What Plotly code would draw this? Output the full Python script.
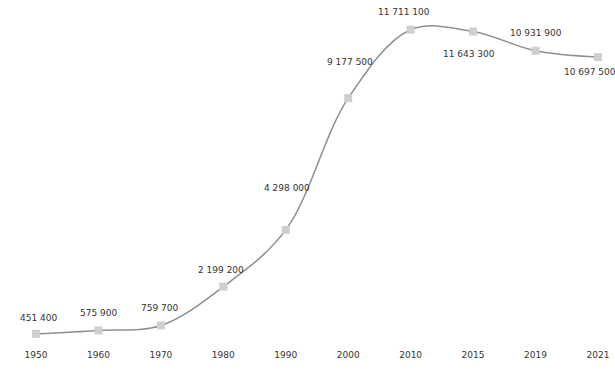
import plotly.graph_objects as go

years = ["1950", "1960", "1970", "1980", "1990", "2000", "2010", "2015", "2019", "2021"]
population = [451400, 575900, 759700, 2199200, 4298000, 9177500, 11711100, 11643300, 10931900, 10697500]
labels = ["451 400", "575 900", "759 700", "2 199 200", "4 298 000", "9 177 500",
          "11 711 100", "11 643 300", "10 931 900", "10 697 500"]

# label offsets in pixels (style)
label_dx = [2, 0, -1, -2, 1, 2, -7, -4, 0, -8]
label_dy = [16, 17, 17, 17, 42, 36, 18, -22, 18, -15]

fig = go.Figure()
fig.add_trace(go.Scatter(
    x=years, y=population, mode="lines+markers",
    line=dict(color="#8f8f8f", width=1.5, shape="spline", smoothing=1.0),
    marker=dict(symbol="square", size=8, color="#cfcfcf"),
    hoverinfo="skip", cliponaxis=False,
))

for i, (y, t, dx, dy) in enumerate(zip(population, labels, label_dx, label_dy)):
    fig.add_annotation(x=i, y=y, xref="x", yref="y", text=t, showarrow=False,
                       xshift=dx, yshift=dy,
                       font=dict(family="DejaVu Sans", size=9, color="#333333"))

fig.update_layout(
    width=615, height=373,
    margin=dict(l=0, r=0, t=10, b=30),
    paper_bgcolor="white", plot_bgcolor="white",
    showlegend=False,
    xaxis=dict(type="category", range=[-0.5765, 9.273], showgrid=False, zeroline=False,
               showline=False, ticks="outside", ticklen=3, tickcolor="rgba(0,0,0,0)",
               tickfont=dict(family="DejaVu Sans", size=9, color="#333333")),
    yaxis=dict(range=[111000, 12440000], visible=False, showgrid=False, zeroline=False),
)

fig.write_html("out.html")
